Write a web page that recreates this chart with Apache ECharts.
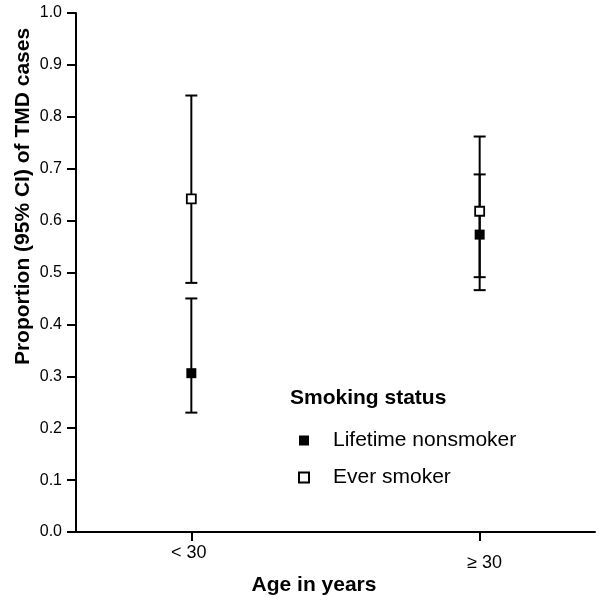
<!DOCTYPE html>
<html><head><meta charset="utf-8">
<script src="https://cdn.jsdelivr.net/npm/echarts@6/dist/echarts.min.js"></script>
<style>html,body{margin:0;padding:0;background:#fff}#c{width:601px;height:602px}</style>
</head><body><div id="c"></div>
<script>
// ---- data ----
const categories = ['< 30', '\u2265 30'];
const xPositions = [0, 1];
const seriesNames = ['Lifetime nonsmoker', 'Ever smoker'];
const nonsmoker = [0.306, 0.573];
const nonsmokerLow = [0.230, 0.466];
const nonsmokerHigh = [0.450, 0.689];
const everSmoker = [0.642, 0.618];
const everLow = [0.480, 0.491];
const everHigh = [0.841, 0.762];
const yAxisTitle = 'Proportion (95% CI) of TMD cases';
const xAxisTitle = 'Age in years';
const legendTitle = 'Smoking status';

const FONT = '"Liberation Sans", Arial, Helvetica, sans-serif';
const chart = echarts.init(document.getElementById('c'), null, {renderer: 'canvas'});

function errData(low, high) {
  return xPositions.map((x, i) => [x, low[i], high[i]]);
}
function renderErr(params, api) {
  const x = api.value(0), lo = api.value(1), hi = api.value(2);
  const a = api.coord([x, lo]), b = api.coord([x, hi]);
  const w = 6;
  const st = {stroke: '#000', lineWidth: 2, fill: null};
  return {type: 'group', children: [
    {type: 'line', shape: {x1: a[0], y1: a[1], x2: b[0], y2: b[1]}, style: st},
    {type: 'line', shape: {x1: a[0] - w, y1: a[1], x2: a[0] + w, y2: a[1]}, style: st},
    {type: 'line', shape: {x1: b[0] - w, y1: b[1], x2: b[0] + w, y2: b[1]}, style: st}
  ]};
}

const option = {
  backgroundColor: '#fff',
  animation: false,
  textStyle: {fontFamily: FONT, color: '#000'},
  grid: {left: 76, right: 6, top: 13, bottom: 70, containLabel: false, outerBoundsMode: 'none'},
  title: {
    text: legendTitle, left: 290, top: 388, padding: 0,
    textStyle: {fontFamily: FONT, fontSize: 21, fontWeight: 'bold', color: '#000'}
  },
  legend: {
    data: seriesNames, orient: 'vertical', left: 293, top: 425,
    itemWidth: 10, itemHeight: 10, itemGap: 16,
    textStyle: {fontFamily: FONT, fontSize: 21, color: '#000', padding: [0, 0, 0, 19], lineHeight: 21}
  },
  xAxis: {
    type: 'value', min: -0.4, max: 1.4,
    name: xAxisTitle, nameLocation: 'middle', nameGap: 43, nameMoveOverlap: false,
    nameTextStyle: {fontFamily: FONT, fontSize: 21, fontWeight: 'bold', color: '#000', padding: [0, 43, 0, 0]},
    axisLine: {show: true, onZero: false, lineStyle: {color: '#000', width: 2}},
    axisTick: {show: true, customValues: xPositions, length: 9, lineStyle: {color: '#000', width: 2}},
    axisLabel: {
      customValues: xPositions, margin: 12, fontSize: 18, fontFamily: FONT, color: '#000',
      formatter: v => v < 0.5 ? '{a|' + categories[0] + '}' : '{b|' + categories[1] + '}',
      rich: {
        a: {fontFamily: FONT, fontSize: 18, color: '#000', padding: [0, 5, 0, 0]},
        b: {fontFamily: FONT, fontSize: 18, color: '#000', padding: [10, 0, 0, 10]}
      }
    },
    splitLine: {show: false}
  },
  yAxis: {
    type: 'value', min: 0, max: 1, interval: 0.1,
    name: yAxisTitle, nameLocation: 'middle', nameGap: 42, nameMoveOverlap: false,
    nameTextStyle: {fontFamily: FONT, fontSize: 21, fontWeight: 'bold', color: '#000', padding: [0, 0, 0, 152]},
    axisLine: {show: true, onZero: false, lineStyle: {color: '#000', width: 2}},
    axisTick: {show: true, length: 9, lineStyle: {color: '#000', width: 2}},
    axisLabel: {fontFamily: FONT, fontSize: 16, color: '#000', margin: 14, formatter: v => v.toFixed(1)},
    splitLine: {show: false}
  },
  series: [
    {type: 'custom', name: 'err1', renderItem: renderErr, data: errData(nonsmokerLow, nonsmokerHigh),
      encode: {x: 0, y: [1, 2]}, z: 1, silent: true},
    {type: 'custom', name: 'err2', renderItem: renderErr, data: errData(everLow, everHigh),
      encode: {x: 0, y: [1, 2]}, z: 1, silent: true},
    {type: 'scatter', name: seriesNames[0], symbol: 'rect', symbolSize: 10, z: 3,
      itemStyle: {color: '#000', opacity: 1},
      data: xPositions.map((x, i) => [x, nonsmoker[i]])},
    {type: 'scatter', name: seriesNames[1], symbol: 'rect', symbolSize: 9, z: 3,
      itemStyle: {color: '#fff', borderColor: '#000', borderWidth: 1.8, opacity: 1},
      data: xPositions.map((x, i) => [x, everSmoker[i]])}
  ]
};
chart.setOption(option);
</script>
</body></html>
